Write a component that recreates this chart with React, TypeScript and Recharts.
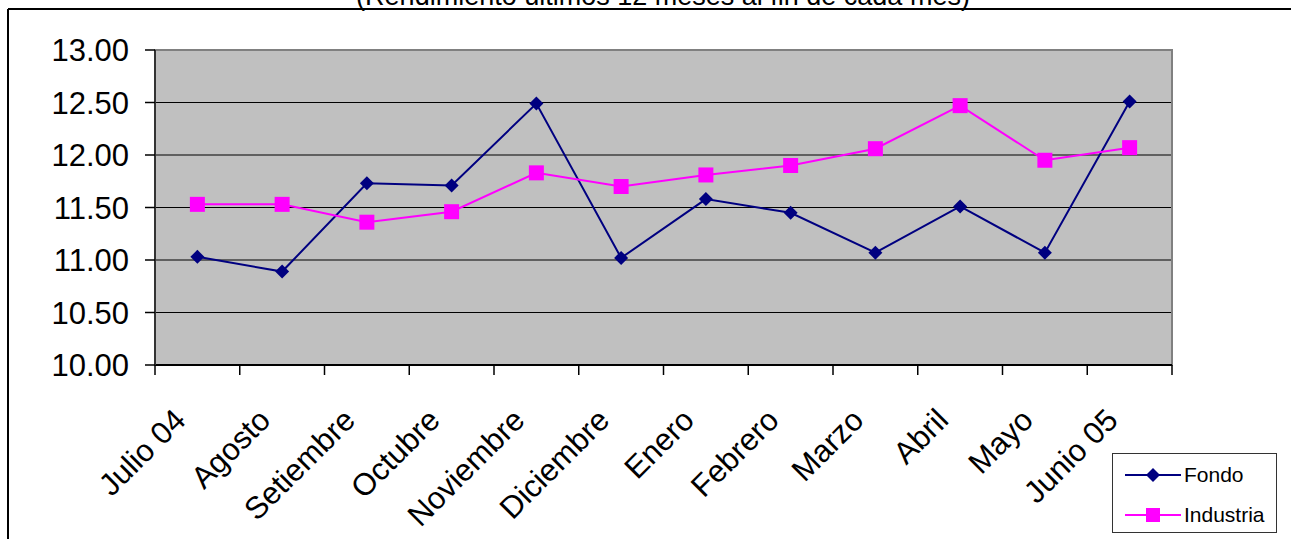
import { LineChart, Line, XAxis, YAxis, CartesianGrid, ReferenceArea, Legend } from 'recharts';

const months = [
  'Julio 04', 'Agosto', 'Setiembre', 'Octubre', 'Noviembre', 'Diciembre',
  'Enero', 'Febrero', 'Marzo', 'Abril', 'Mayo', 'Junio 05',
];
const fondo = [11.03, 10.89, 11.73, 11.71, 12.49, 11.02, 11.58, 11.45, 11.07, 11.51, 11.07, 12.51];
const industria = [11.53, 11.53, 11.36, 11.46, 11.83, 11.70, 11.81, 11.90, 12.06, 12.47, 11.95, 12.07];
const yTicks = [10, 10.5, 11, 11.5, 12, 12.5, 13];

const title = '(Rendimiento últimos 12 meses al fin de cada mes)';

const FONT = '"Liberation Sans", Arial, sans-serif';
const NAVY = '#000080';
const MAGENTA = '#FF00FF';

const data = months.map((m, i) => ({ month: m, fondo: fondo[i], industria: industria[i] }));

const Diamond = (props: any) => {
  const { cx, cy } = props;
  if (cx == null || cy == null) return null;
  const r = 7;
  return <path d={`M${cx},${cy - r}L${cx + r},${cy}L${cx},${cy + r}L${cx - r},${cy}Z`} fill={NAVY} />;
};

const Square = (props: any) => {
  const { cx, cy } = props;
  if (cx == null || cy == null) return null;
  const s = 15;
  return <rect x={cx - s / 2} y={cy - s / 2} width={s} height={s} fill={MAGENTA} />;
};

// category labels rotated, tick marks between categories
const MonthTick = (props: any) => {
  const { x, y, payload, index } = props;
  const half = payload?.offset || 42.4;
  const axisY = y - 10;
  const lx = x - 10;
  const ly = y + 47;
  return (
    <g>
      <line x1={x - half} y1={axisY} x2={x - half} y2={axisY + 10} stroke="#000" strokeWidth={1.5} />
      {index === months.length - 1 && (
        <line x1={x + half} y1={axisY} x2={x + half} y2={axisY + 10} stroke="#000" strokeWidth={1.5} />
      )}
      <text
        x={lx}
        y={ly}
        textAnchor="end"
        transform={`rotate(-45 ${lx} ${ly})`}
        fontSize={31}
        fontFamily={FONT}
        fill="#000"
      >
        {payload.value}
      </text>
    </g>
  );
};

const LegendBox = () => (
  <div
    style={{
      position: 'relative',
      width: 163,
      height: 78,
      border: '1px solid #333',
      background: '#fff',
      fontFamily: FONT,
      fontSize: 21,
    }}
  >
    {[
      { name: 'Fondo', color: NAVY, marker: 'diamond' },
      { name: 'Industria', color: MAGENTA, marker: 'square' },
    ].map((item, i) => (
      <div key={item.name} style={{ position: 'absolute', left: 12, top: 9 + i * 40, display: 'flex', alignItems: 'center', height: 24 }}>
        <svg width={56} height={20}>
          <line x1={0} y1={10} x2={56} y2={10} stroke={item.color} strokeWidth={2} />
          {item.marker === 'diamond' ? (
            <path d="M28,3L35,10L28,17L21,10Z" fill={item.color} />
          ) : (
            <rect x={21} y={3} width={14} height={14} fill={item.color} />
          )}
        </svg>
        <span style={{ marginLeft: 3 }}>{item.name}</span>
      </div>
    ))}
  </div>
);

export default function App() {
  return (
    <div style={{ position: 'absolute', left: 0, top: 0, width: 1291, height: 539, background: '#fff', overflow: 'hidden' }}>
      <svg width={1291} height={539} style={{ position: 'absolute', left: 0, top: 0 }}>
        <line x1={8} y1={9} x2={1291} y2={9} stroke="#000" strokeWidth={2} />
        <line x1={8} y1={9} x2={8} y2={539} stroke="#000" strokeWidth={2} />
        <text x={663} y={5} textAnchor="middle" fontSize={27} fontFamily={FONT} fill="#000">
          {title}
        </text>
      </svg>
      <div style={{ position: 'absolute', left: 0, top: 0 }}>
        <LineChart width={1291} height={539} data={data} margin={{ top: 50, right: 119, bottom: 0, left: 0 }}>
          <CartesianGrid vertical={false} stroke="#000" fill="#C0C0C0" fillOpacity={1} />
          <ReferenceArea y1={10} y2={13} fill="none" stroke="#808080" strokeWidth={2} />
          <XAxis
            dataKey="month"
            scale="band"
            height={174}
            tickLine={false}
            tickSize={10}
            tickMargin={0}
            interval={0}
            axisLine={{ stroke: '#000', strokeWidth: 2 }}
            tick={<MonthTick />}
          />
          <YAxis
            width={155}
            domain={[10, 13]}
            ticks={yTicks}
            interval={0}
            tickFormatter={(v: number) => v.toFixed(2)}
            tickSize={10}
            tickMargin={16}
            tickLine={{ stroke: '#000', strokeWidth: 1.5 }}
            axisLine={{ stroke: '#333', strokeWidth: 2 }}
            tick={{ fontSize: 31, fontFamily: FONT, fill: '#000' }}
          />
          <Legend
            layout="vertical"
            align="center"
            verticalAlign="middle"
            content={<LegendBox />}
            wrapperStyle={{ position: 'absolute', left: 1112, top: 453, width: 165, height: 80 }}
          />
          <Line
            type="linear"
            dataKey="fondo"
            name="Fondo"
            stroke={NAVY}
            strokeWidth={2}
            dot={<Diamond />}
            activeDot={false}
            isAnimationActive={false}
          />
          <Line
            type="linear"
            dataKey="industria"
            name="Industria"
            stroke={MAGENTA}
            strokeWidth={2}
            dot={<Square />}
            activeDot={false}
            isAnimationActive={false}
          />
        </LineChart>
      </div>
    </div>
  );
}
